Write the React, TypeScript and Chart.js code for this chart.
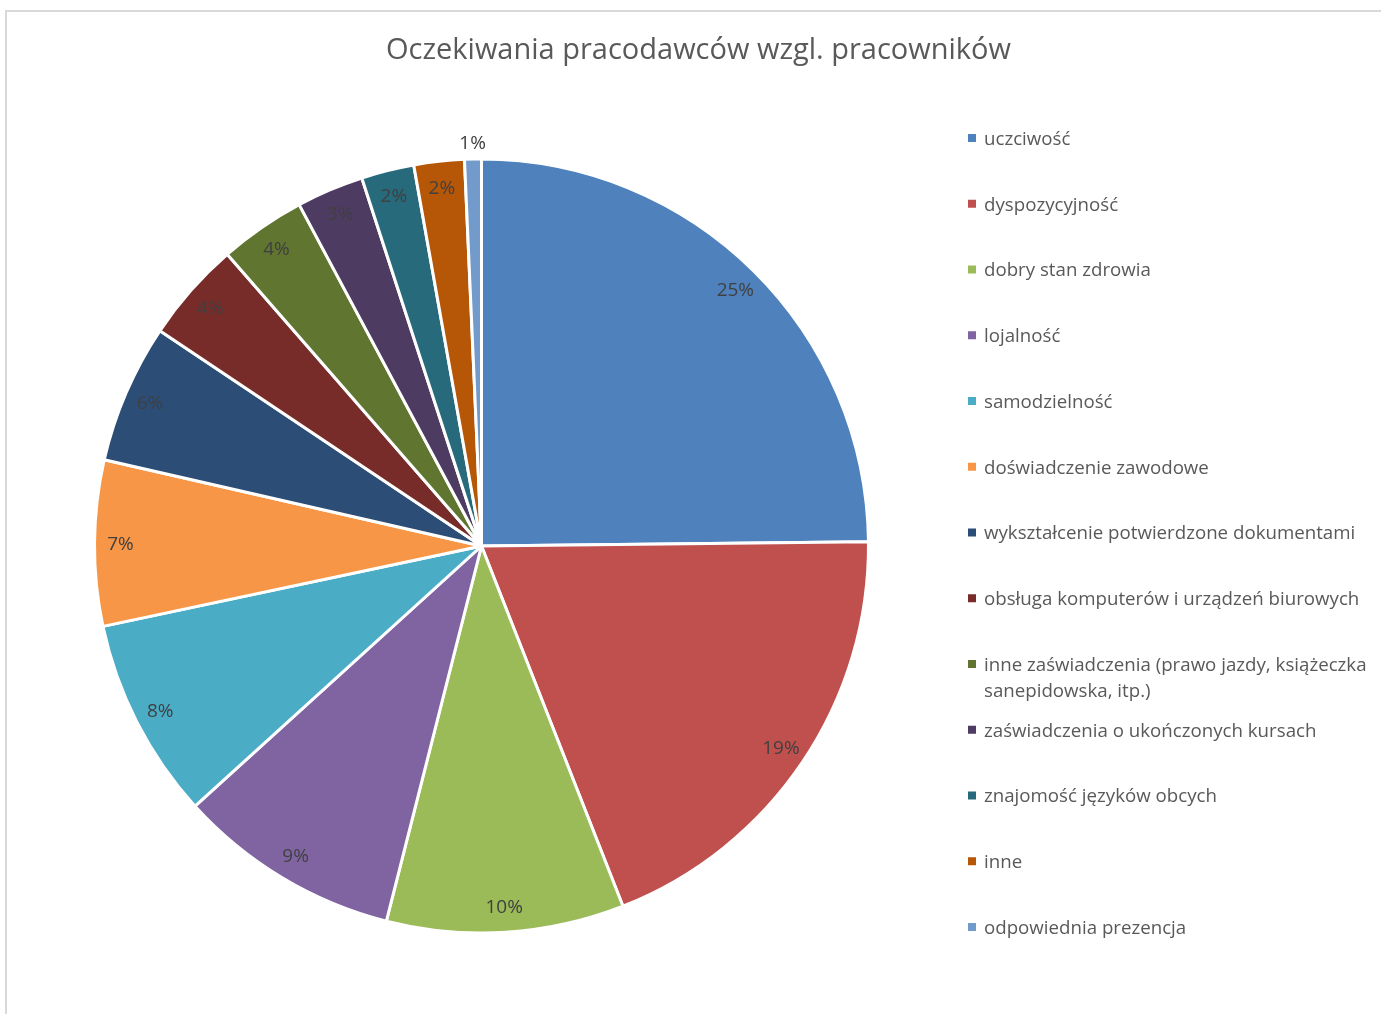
import React, { useEffect, useRef } from "react";
import { Chart, registerables } from "chart.js";

Chart.register(...registerables);

const TITLE = "Oczekiwania pracodawców wzgl. pracowników";

const categories = [
  "uczciwość",
  "dyspozycyjność",
  "dobry stan zdrowia",
  "lojalność",
  "samodzielność",
  "doświadczenie zawodowe",
  "wykształcenie potwierdzone dokumentami",
  "obsługa komputerów i urządzeń biurowych",
  "inne zaświadczenia (prawo jazdy, książeczka sanepidowska, itp.)",
  "zaświadczenia o ukończonych kursach",
  "znajomość języków obcych",
  "inne",
  "odpowiednia prezencja",
];

const values = [24.8, 19.2, 9.9, 9.3, 8.4, 6.9, 5.8, 4.2, 3.6, 2.8, 2.2, 2.1, 0.7];

const colors = [
  "#4F81BD",
  "#C0504D",
  "#9BBB59",
  "#8064A2",
  "#4BACC6",
  "#F79646",
  "#2C4D75",
  "#772C2A",
  "#5F7530",
  "#4D3B62",
  "#276A7C",
  "#B65708",
  "#729ACA",
];

const W = 1381;
const H = 1014;
const FONT = '"Open Sans", "DejaVu Sans", sans-serif';

export default function App() {
  const ref = useRef<HTMLCanvasElement>(null);

  useEffect(() => {
    const canvas = ref.current;
    if (!canvas) return;

    const framePlugin = {
      id: "frameAndTitle",
      beforeDraw(chart: any) {
        const ctx = chart.ctx;
        ctx.save();
        ctx.fillStyle = "#ffffff";
        ctx.fillRect(0, 0, chart.width, chart.height);
        ctx.strokeStyle = "#d9d9d9";
        ctx.lineWidth = 2;
        ctx.beginPath();
        ctx.moveTo(6, H + 10);
        ctx.lineTo(6, 11);
        ctx.lineTo(W + 10, 11);
        ctx.stroke();
        ctx.fillStyle = "#595959";
        ctx.font = `29px ${FONT}`;
        ctx.textAlign = "center";
        ctx.textBaseline = "middle";
        ctx.fillText(TITLE, 698.5, 51);
        ctx.restore();
      },
    };

    const sliceLabelPlugin = {
      id: "sliceLabels",
      afterDatasetsDraw(chart: any) {
        const ctx = chart.ctx;
        const meta = chart.getDatasetMeta(0);
        const data = chart.data.datasets[0].data as number[];
        const total = data.reduce((a, b) => a + b, 0);
        ctx.save();
        ctx.font = `19px ${FONT}`;
        ctx.fillStyle = "#404040";
        ctx.textAlign = "center";
        ctx.textBaseline = "middle";
        meta.data.forEach((arc: any, i: number) => {
          const p = arc.getProps(["x", "y", "startAngle", "endAngle", "outerRadius"], true);
          const mid = (p.startAngle + p.endAngle) / 2;
          const frac = data[i] / total;
          const r = frac < 0.015 ? p.outerRadius + 17 : p.outerRadius - 26;
          const lx = p.x + Math.cos(mid) * r;
          const ly = p.y + Math.sin(mid) * r + 1;
          ctx.fillText(`${Math.round(frac * 100)}%`, lx, ly);
        });
        ctx.restore();
      },
    };

    const legendPlugin = {
      id: "sideLegend",
      afterDraw(chart: any) {
        const ctx = chart.ctx;
        const labels = chart.data.labels as string[];
        const bg = chart.data.datasets[0].backgroundColor as string[];
        const boxX = 968;
        const textX = 984;
        const maxW = W - textX - 6;
        const startY = 138;
        const step = 65.75;
        const lineH = 26;
        ctx.save();
        ctx.font = `18.7px ${FONT}`;
        ctx.textAlign = "left";
        ctx.textBaseline = "middle";
        labels.forEach((label, i) => {
          const y = startY + i * step;
          ctx.fillStyle = bg[i];
          ctx.fillRect(boxX, y - 4, 8, 8);
          const words = label.split(" ");
          const lines: string[] = [];
          let cur = "";
          words.forEach((w) => {
            const test = cur ? cur + " " + w : w;
            if (ctx.measureText(test).width > maxW && cur) {
              lines.push(cur);
              cur = w;
            } else {
              cur = test;
            }
          });
          if (cur) lines.push(cur);
          ctx.fillStyle = "#595959";
          lines.forEach((ln, k) => ctx.fillText(ln, textX, y + 1.5 + k * lineH));
        });
        ctx.restore();
      },
    };

    const chart = new Chart(canvas, {
      type: "pie",
      data: {
        labels: categories,
        datasets: [
          {
            data: values,
            backgroundColor: colors,
            borderColor: "#ffffff",
            borderWidth: 3,
          },
        ],
      },
      options: {
        responsive: false,
        animation: false,
        layout: {
          padding: { left: 93, right: 511, top: 157.5, bottom: 79.5 },
        },
        plugins: {
          legend: { display: false },
          title: { display: false },
          tooltip: { enabled: false },
        },
      },
      plugins: [framePlugin, sliceLabelPlugin, legendPlugin],
    });

    return () => chart.destroy();
  }, []);

  return (
    <div
      style={{
        position: "fixed",
        left: 0,
        top: 0,
        width: W,
        height: H,
        overflow: "hidden",
        background: "#fff",
      }}
    >
      <canvas ref={ref} width={W} height={H} style={{ display: "block", width: W, height: H }} />
    </div>
  );
}
